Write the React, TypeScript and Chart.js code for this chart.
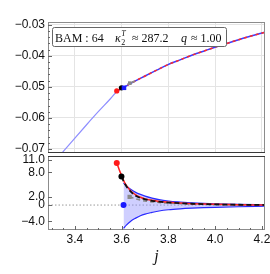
import React, { useEffect, useRef } from "react";
import { Chart, registerables } from "chart.js";
Chart.register(...registerables);

// ---- axes ----
const xMin = 3.285;
const xMax = 4.213;
const xTicks = [3.4, 3.6, 3.8, 4.0, 4.2];
const topYMin = -0.0713;
const topYMax = -0.0291;
const topYTicks = [-0.07, -0.06, -0.05, -0.04, -0.03];
const botYMin = -6.1;
const botYMax = 12.0;
const botYTicks = [-4, 0, 2, 8, 11];

// ---- top panel data ----
const topLowerJ = [3.33, 3.4, 3.45, 3.5, 3.546, 3.58, 3.61];
const topLowerV = [-0.0726, -0.0665, -0.0622, -0.058, -0.0543, -0.0515, -0.0501];
const topMainJ = [3.58, 3.61, 3.655, 3.7, 3.75, 3.796, 3.85, 3.9, 3.95, 3.996, 4.05, 4.1, 4.15, 4.213];
const topMainV = [-0.0513, -0.0501, -0.0482, -0.0465, -0.0446, -0.0429, -0.0413, -0.0398, -0.0385, -0.0373, -0.036, -0.0348, -0.0337, -0.0324];
const topGrayJ = [3.625, 3.66];
const topGrayV = [-0.0492, -0.048];
const topRedPt = [3.579, -0.0513];
const topBlackPt = [3.599, -0.0503];
const topBluePt = [3.61, -0.0503];
const topGrayPt = [3.635, -0.0488];

// ---- bottom panel data ----
const bandJ = [3.608, 3.62, 3.64, 3.66, 3.68, 3.7, 3.73, 3.76, 3.8, 3.85, 3.9, 3.95, 4.0, 4.1, 4.213];
const bandUpper = [5.4, 4.7, 3.8, 3.1, 2.6, 2.2, 1.7, 1.32, 1.0, 0.75, 0.55, 0.4, 0.3, 0.16, 0.08];
const bandLower = [-5.7, -4.9, -3.9, -3.2, -2.6, -2.2, -1.8, -1.45, -1.15, -0.92, -0.76, -0.64, -0.55, -0.41, -0.28];
const redJ = [3.579, 3.59, 3.6, 3.61, 3.62, 3.64, 3.66, 3.68, 3.7, 3.73, 3.76, 3.8, 3.85, 3.9, 3.95, 4.0, 4.1, 4.213];
const redY = [10.3, 8.6, 7.2, 5.8, 4.8, 3.4, 2.5, 1.9, 1.5, 1.15, 0.9, 0.7, 0.5, 0.35, 0.25, 0.18, 0.08, 0.03];
const blackJ = [3.599, 3.61, 3.62, 3.64, 3.66, 3.68, 3.7, 3.73, 3.76, 3.8, 3.85, 3.9, 3.95, 4.0, 4.1, 4.213];
const blackY = [7.0, 5.6, 4.6, 3.2, 2.3, 1.75, 1.4, 1.05, 0.82, 0.62, 0.45, 0.32, 0.23, 0.16, 0.07, 0.02];
const grayJ = [3.634, 3.66, 3.7, 3.75, 3.8, 3.85, 3.9, 4.0, 4.1, 4.213];
const grayY = [2.0, 1.5, 1.0, 0.68, 0.48, 0.36, 0.27, 0.15, 0.08, 0.03];
const botRedPt = [3.579, 10.3];
const botBlackPt = [3.599, 7.0];
const botBluePt = [3.608, 0];
const botGrayPt = [3.634, 2.0];

const zip = (xs: number[], ys: number[]) => xs.map((x, i) => ({ x, y: ys[i] }));
const pt = (p: number[]) => [{ x: p[0], y: p[1] }];
const minus = (s: string) => s.replace("-", "\u2212");

const tickFont = { family: "'Liberation Sans', Arial, sans-serif", size: 12 };
const FRAME = "#8c8c8c";
const SEP = "#3a3a3a";

function framePlugin(id: string, cfg: any) {
  return {
    id,
    afterDraw(chart: any) {
      const { ctx, chartArea } = chart;
      const { left, right, top, bottom } = chartArea;
      const xs = chart.scales.x;
      const ys = chart.scales.y;
      ctx.save();
      ctx.lineWidth = 1;
      ctx.strokeStyle = FRAME;
      ctx.strokeRect(left + 0.5, top + 0.5, right - left - 1, bottom - top - 1);
      ctx.strokeStyle = SEP;
      ctx.beginPath();
      if (cfg.sepBottom) {
        ctx.moveTo(left, bottom - 0.5);
        ctx.lineTo(right, bottom - 0.5);
      }
      if (cfg.sepTop) {
        ctx.moveTo(left, top + 0.5);
        ctx.lineTo(right, top + 0.5);
      }
      ctx.stroke();
      ctx.strokeStyle = "#666";
      ctx.beginPath();
      const yt = (v: number, len: number) => {
        const p = Math.round(ys.getPixelForValue(v)) + 0.5;
        if (p < top || p > bottom) return;
        ctx.moveTo(left, p);
        ctx.lineTo(left + len, p);
      };
      const xt = (v: number, len: number) => {
        const p = Math.round(xs.getPixelForValue(v)) + 0.5;
        if (p < left || p > right) return;
        ctx.moveTo(p, bottom);
        ctx.lineTo(p, bottom - len);
      };
      (cfg.yMajor || []).forEach((v: number) => yt(v, 4));
      (cfg.yMinor || []).forEach((v: number) => yt(v, 2));
      (cfg.xMajor || []).forEach((v: number) => xt(v, 4));
      (cfg.xMinor || []).forEach((v: number) => xt(v, 2));
      ctx.stroke();
      ctx.restore();
    },
  };
}

const legendPlugin = {
  id: "bamLegend",
  afterDraw(chart: any) {
    const ctx = chart.ctx;
    ctx.save();
    const bx = 52.5, by = 27.5, bw = 174, bh = 19;
    ctx.fillStyle = "#fff";
    ctx.strokeStyle = "#666";
    ctx.lineWidth = 1;
    ctx.beginPath();
    if ((ctx as any).roundRect) (ctx as any).roundRect(bx, by, bw, bh, 2);
    else ctx.rect(bx, by, bw, bh);
    ctx.fill();
    ctx.stroke();
    const serif = "'Liberation Serif', 'DejaVu Serif', serif";
    const base = 41.5;
    ctx.fillStyle = "#111";
    ctx.textBaseline = "alphabetic";
    ctx.textAlign = "left";
    ctx.font = `12px ${serif}`;
    ctx.fillText("BAM : 64", 55, base);
    ctx.font = `italic 12px ${serif}`;
    ctx.fillText("\u03ba", 115, base);
    const kw = ctx.measureText("\u03ba").width;
    ctx.font = `8px ${serif}`;
    ctx.fillText("2", 115 + kw + 0.5, base + 3);
    ctx.font = `italic 8px ${serif}`;
    ctx.fillText("T", 115 + kw + 0.5, base - 6);
    ctx.font = `12px ${serif}`;
    ctx.fillText("\u2248 287.2", 132, base);
    ctx.font = `italic 12px ${serif}`;
    ctx.fillText("q", 181, base);
    ctx.font = `12px ${serif}`;
    ctx.fillText("\u2248 1.00", 191, base);
    ctx.restore();
  },
};

function lineDs(data: any[], color: string, width: number, order: number, extra: any = {}) {
  return {
    data,
    showLine: true,
    borderColor: color,
    backgroundColor: color,
    borderWidth: width,
    pointRadius: 0,
    pointHoverRadius: 0,
    fill: false,
    cubicInterpolationMode: "monotone",
    order,
    clip: 0,
    ...extra,
  };
}

function pointDs(data: any[], color: string, style: string, radius: number, order: number) {
  return {
    data,
    showLine: false,
    pointStyle: style,
    pointRadius: radius,
    pointBackgroundColor: color,
    pointBorderColor: color,
    pointBorderWidth: 0,
    order,
    clip: false,
  };
}

export default function App() {
  const topRef = useRef<HTMLCanvasElement>(null);
  const botRef = useRef<HTMLCanvasElement>(null);

  useEffect(() => {
    const minorTop: number[] = [];
    for (let v = -0.072; v <= -0.0289; v += 0.002) minorTop.push(Math.round(v * 1000) / 1000);
    const minorX: number[] = [];
    for (let v = 3.3; v <= 4.21; v += 0.05) minorX.push(Math.round(v * 100) / 100);

    const top = new Chart(topRef.current as HTMLCanvasElement, {
      type: "scatter",
      data: {
        datasets: [
          pointDs(pt(topRedPt), "#ff1a1a", "circle", 2.6, 0),
          pointDs(pt(topBlackPt), "#000", "circle", 2.6, 1),
          pointDs(pt(topBluePt), "#1a1aff", "rect", 3.2, 0),
          pointDs(pt(topGrayPt), "#8a8a8a", "rect", 2.6, 2),
          lineDs(zip(topGrayJ, topGrayV), "#8a8a8a", 1.8, 3, { borderDash: [3, 2] }),
          lineDs(zip(topMainJ, topMainV), "#ff2a2a", 1.5, 4, { borderDash: [3, 3] }),
          lineDs(zip(topMainJ, topMainV), "#3c3cff", 1.5, 5),
          lineDs(zip(topLowerJ, topLowerV), "#8e8eff", 1.2, 6),
        ] as any,
      },
      options: {
        responsive: false,
        animation: false,
        events: [],
        layout: { padding: { left: 0, right: 5, top: 22, bottom: 1 } },
        plugins: { legend: { display: false }, tooltip: { enabled: false } },
        scales: {
          x: {
            type: "linear",
            min: xMin,
            max: xMax,
            afterBuildTicks: (s: any) => {
              s.ticks = xTicks.map((v) => ({ value: v }));
            },
            ticks: { display: false },
            grid: { color: "#e4e4e4", drawTicks: false, lineWidth: 1 },
            border: { display: false },
            afterFit: (s: any) => {
              s.height = 0;
              s.paddingLeft = 0;
              s.paddingRight = 0;
            },
          },
          y: {
            type: "linear",
            min: topYMin,
            max: topYMax,
            afterBuildTicks: (s: any) => {
              s.ticks = topYTicks.map((v) => ({ value: v }));
            },
            ticks: {
              font: tickFont,
              color: "#111",
              padding: 3,
              callback: (v: any) => minus(Number(v).toFixed(2)),
            },
            grid: { color: "#e4e4e4", drawTicks: false, lineWidth: 1 },
            border: { display: false },
            afterFit: (s: any) => {
              s.width = 48;
              s.paddingTop = 0;
              s.paddingBottom = 0;
            },
          },
        },
      } as any,
      plugins: [
        framePlugin("topFrame", { yMajor: topYTicks, yMinor: minorTop, sepBottom: true }),
        legendPlugin,
      ],
    });

    const bot = new Chart(botRef.current as HTMLCanvasElement, {
      type: "scatter",
      data: {
        datasets: [
          pointDs(pt(botRedPt), "#ff1a1a", "circle", 3, 0),
          pointDs(pt(botBlackPt), "#000", "circle", 3, 0),
          pointDs(pt(botBluePt), "#1a1aff", "circle", 3, 0),
          pointDs(pt(botGrayPt), "#8a8a8a", "rect", 3, 1),
          lineDs(zip(blackJ, blackY), "#111", 1.8, 2, { borderDash: [5, 3] }),
          lineDs(zip(redJ, redY), "#ff2020", 1.5, 3),
          lineDs(zip(grayJ, grayY), "#8a8a8a", 1.6, 4, { borderDash: [4, 3] }),
          lineDs(zip(bandJ, bandUpper), "#2b2bff", 1.2, 6, {
            fill: "+1",
            backgroundColor: "rgba(140,140,255,0.42)",
          }),
          lineDs(zip(bandJ, bandLower), "#2b2bff", 1.2, 5),
          lineDs(
            [
              { x: xMin, y: 0 },
              { x: xMax, y: 0 },
            ],
            "#9a9a9a",
            1,
            9,
            { borderDash: [1.5, 2] }
          ),
        ] as any,
      },
      options: {
        responsive: false,
        animation: false,
        events: [],
        layout: { padding: { left: 0, right: 5, top: 16, bottom: 0 } },
        plugins: { legend: { display: false }, tooltip: { enabled: false } },
        scales: {
          x: {
            type: "linear",
            min: xMin,
            max: xMax,
            afterBuildTicks: (s: any) => {
              s.ticks = xTicks.map((v) => ({ value: v }));
            },
            ticks: {
              font: tickFont,
              color: "#111",
              padding: 2,
              maxRotation: 0,
              callback: (v: any) => Number(v).toFixed(1),
            },
            grid: { display: false, drawTicks: false },
            border: { display: false },
            title: {
              display: true,
              text: "j",
              font: { family: "'Liberation Serif', 'DejaVu Serif', serif", size: 16, style: "italic" },
              color: "#111",
              padding: { top: 0, bottom: 8 },
            },
            afterFit: (s: any) => {
              s.height = 44;
              s.paddingLeft = 0;
              s.paddingRight = 0;
            },
          },
          y: {
            type: "linear",
            min: botYMin,
            max: botYMax,
            afterBuildTicks: (s: any) => {
              s.ticks = botYTicks.map((v) => ({ value: v }));
            },
            ticks: {
              font: tickFont,
              color: "#111",
              padding: 3,
              callback: (v: any) => (Number(v) === 0 ? "0" : minus(Number(v).toFixed(1))),
            },
            grid: { display: false, drawTicks: false },
            border: { display: false },
            afterFit: (s: any) => {
              s.width = 48;
              s.paddingTop = 0;
              s.paddingBottom = 0;
            },
          },
        },
      } as any,
      plugins: [framePlugin("botFrame", { yMajor: botYTicks, xMajor: xTicks, xMinor: minorX, sepTop: true })],
    });

    return () => {
      top.destroy();
      bot.destroy();
    };
  }, []);

  return (
    <div style={{ position: "absolute", left: 0, top: 0, width: 270, height: 274, background: "#fff", overflow: "hidden" }}>
      <canvas ref={topRef} width={270} height={157} style={{ position: "absolute", left: 0, top: 0, width: 270, height: 157 }} />
      <canvas ref={botRef} width={270} height={134} style={{ position: "absolute", left: 0, top: 140, width: 270, height: 134 }} />
    </div>
  );
}
